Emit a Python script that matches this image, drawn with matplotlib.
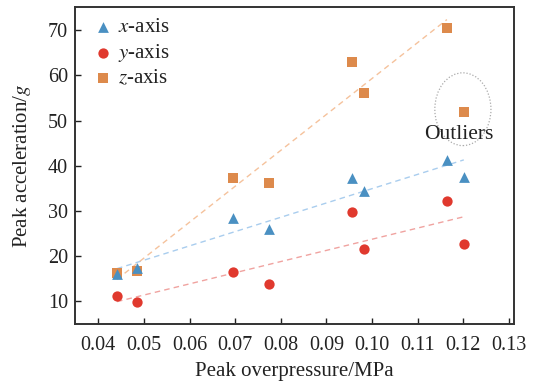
import numpy as np
import matplotlib
matplotlib.use("Agg")
import matplotlib.pyplot as plt
from matplotlib.patches import Ellipse

plt.rcParams['font.family'] = ['Liberation Serif', 'DejaVu Serif']
plt.rcParams['mathtext.fontset'] = 'stix'

# Peak overpressure (MPa) for each test
pressure = [0.0441, 0.0485, 0.0695, 0.0775, 0.0956, 0.0983, 0.1164, 0.1201]

# Peak acceleration (g) along each axis
acc_x = [16.0, 17.4, 28.5, 26.0, 37.2, 34.5, 41.3, 37.4]
acc_y = [11.3, 9.9, 16.5, 13.8, 29.7, 21.6, 32.3, 22.8]
acc_z = [16.2, 16.8, 37.2, 36.2, 62.9, 56.1, 70.4, 51.8]

# the last z-axis point is treated as an outlier and left out of its fit
z_outlier_index = 7

x_ticks = [0.04, 0.05, 0.06, 0.07, 0.08, 0.09, 0.10, 0.11, 0.12, 0.13]
y_ticks = [10, 20, 30, 40, 50, 60, 70]

fig = plt.figure(figsize=(5.36, 3.83), dpi=100)
ax = fig.add_axes([75 / 536, 1 - 324 / 383, (514 - 75) / 536, (324 - 7) / 383])

c_x, c_y, c_z = '#4a90c2', '#e0392e', '#dd8a4c'
l_x, l_y, l_z = '#a9cdee', '#f0a3a0', '#f5c29c'


def fit_line(xs, ys, color):
    xs = np.asarray(xs)
    ys = np.asarray(ys)
    k, b = np.polyfit(xs, ys, 1)
    xx = np.array([xs.min(), xs.max()])
    ax.plot(xx, k * xx + b, ls=(0, (4, 3)), color=color, lw=1.0, zorder=1)


fit_line(pressure, acc_x, l_x)
fit_line(pressure, acc_y, l_y)
keep = [i for i in range(len(pressure)) if i != z_outlier_index]
fit_line([pressure[i] for i in keep], [acc_z[i] for i in keep], l_z)

ax.scatter(pressure, acc_x, marker='^', s=60, color=c_x, label='$x$-axis', zorder=3, linewidths=0)
ax.scatter(pressure, acc_y, marker='o', s=55, color=c_y, label='$y$-axis', zorder=3, linewidths=0)
ax.scatter(pressure, acc_z, marker='s', s=42, color=c_z, label='$z$-axis', zorder=2, linewidths=0)

# outlier marker
ell = Ellipse((0.1199, 52.5), 0.0123, 16.1, fill=False, ls=(0, (1, 1.5)),
              edgecolor='#aaaaaa', lw=0.9)
ax.add_patch(ell)
ax.text(0.119, 47.0, 'Outliers', ha='center', va='center', fontsize=15.5, color='#222222')

ax.set_xlim(0.0349, 0.1311)
ax.set_ylim(5, 75.1)
ax.set_xticks(x_ticks)
ax.set_xticklabels([f'{v:.2f}' for v in x_ticks])
ax.set_yticks(y_ticks)

ax.tick_params(direction='in', length=4, width=1.0, labelsize=14.5, colors='#222222')
ax.tick_params(axis='x', pad=9)
ax.tick_params(axis='y', pad=5)
for s in ax.spines.values():
    s.set_linewidth(1.4)
    s.set_color('#333333')

ax.set_xlabel('Peak overpressure/MPa', fontsize=15, color='#222222', labelpad=5)
ax.set_ylabel('Peak acceleration/$g$', fontsize=15, color='#222222', labelpad=11)

leg = ax.legend(loc='upper left', frameon=False, fontsize=15, handletextpad=0.2,
                labelspacing=0.24, borderaxespad=0.0, handlelength=1.0,
                bbox_to_anchor=(0.022, 0.993))
for t in leg.get_texts():
    t.set_color('#222222')

fig.savefig('out.png', dpi=100)
